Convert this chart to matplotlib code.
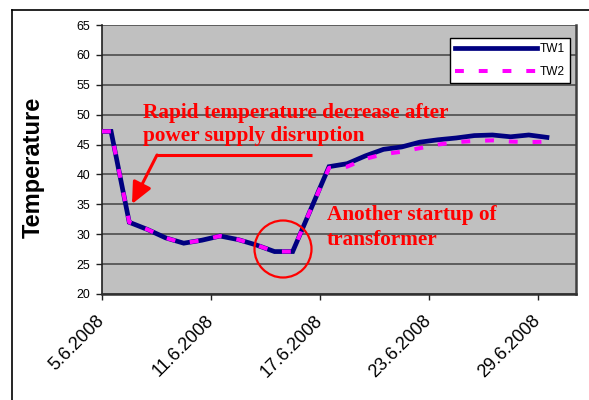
import matplotlib
matplotlib.use("Agg")
import matplotlib.pyplot as plt
from matplotlib.patches import Ellipse
from matplotlib.lines import Line2D

# ---- data ----
day_offset = [0, 0.5, 1.5, 2.5, 3.5, 4.5, 5.5, 6.5, 7.5, 8.5, 9.5, 10.5, 11.5,
              12.5, 13.5, 14.5, 15.5, 16.5, 17.5, 18.5, 19.5, 20.5, 21.5, 22.5,
              23.5, 24.5]
tw1 = [47.2, 47.2, 32.0, 30.8, 29.4, 28.5, 29.0, 29.7, 29.1, 28.2, 27.1, 27.1,
       34.2, 41.3, 41.8, 43.1, 44.2, 44.6, 45.4, 45.8, 46.1, 46.5, 46.6, 46.3,
       46.6, 46.2]
tw2 = [47.2, 47.2, 32.0, 30.8, 29.4, 28.5, 29.0, 29.7, 29.1, 28.2, 27.1, 27.1,
       34.2, 41.1, 41.3, 42.6, 43.4, 43.8, 44.4, 45.0, 45.4, 45.6, 45.7, 45.5,
       45.4, 45.5]
tick_days = [0, 6, 12, 18, 24]
tick_labels = ["5.6.2008", "11.6.2008", "17.6.2008", "23.6.2008", "29.6.2008"]
series_names = ["TW1", "TW2"]

W, H = 589, 400
fig = plt.figure(figsize=(W / 100, H / 100), dpi=100)
fig.patch.set_facecolor("white")

L, R, T, B = 102, 576, 25, 294
ax = fig.add_axes([L / W, 1 - B / H, (R - L) / W, (B - T) / H])
ax.set_facecolor("#C0C0C0")

ax.set_xlim(0, 26.1)
ax.set_ylim(20, 65)
ax.set_yticks(range(20, 66, 5))
ax.yaxis.grid(True, color="#555555", linewidth=1.3)
ax.set_axisbelow(True)

ax.plot(day_offset, tw1, color="#000080", linewidth=3.4, label=series_names[0],
        solid_joinstyle="miter", zorder=3)
ax.plot(day_offset, tw2, color="#FF00FF", linewidth=2.9, linestyle=(0, (2.2, 3.7)),
        label=series_names[1], zorder=4)

ax.spines["top"].set_visible(False)
ax.spines["left"].set_color("#202020")
ax.spines["left"].set_linewidth(1.2)
ax.spines["right"].set_color("#404040")
ax.spines["right"].set_linewidth(1.8)
ax.spines["bottom"].set_color("#303030")
ax.spines["bottom"].set_linewidth(1.8)

ax.set_xticks(tick_days)
ax.set_xticklabels(tick_labels, rotation=45, ha="right", va="center",
                   rotation_mode="anchor", fontsize=13, family="Liberation Sans")
ax.tick_params(axis="x", direction="out", length=4.5, width=1.0, color="#202020", pad=13)
ax.tick_params(axis="y", direction="out", length=4.5, width=1.0, color="#202020",
               pad=4, labelsize=8.9)
for lab in ax.get_yticklabels():
    lab.set_family("Liberation Sans")

fig.text(33 / W, 1 - 167 / H, "Temperature", rotation=90, ha="center", va="center",
         fontsize=17, fontweight="bold", family="Liberation Sans")

leg = ax.legend(loc="upper right", bbox_to_anchor=((570 - L) / (R - L), (B - 38) / (B - T)),
                borderaxespad=0, frameon=True, fancybox=False, framealpha=1,
                edgecolor="black", handlelength=6.9, handletextpad=0.25,
                labelspacing=0.95, borderpad=0.4,
                prop={"family": "Liberation Sans", "size": 8.6})
leg.get_frame().set_linewidth(1.0)

def axf(px, py):
    return ((px - L) / (R - L), (B - py) / (B - T))

red = "#FF0000"
tfont = dict(family="Liberation Serif", fontweight="bold", fontsize=15.3, color=red)
for txt, px, py in [("Rapid temperature decrease after", 143, 118),
                    ("power supply disruption", 143, 141),
                    ("Another startup of", 327, 220),
                    ("transformer", 327, 245)]:
    x0, y0 = axf(px, py)
    ax.text(x0, y0, txt, transform=ax.transAxes, va="baseline", ha="left",
            zorder=5, **tfont)

# arrow: horizontal then diagonal
p1 = axf(312, 155)
p2 = axf(157, 155)
p3 = axf(132, 204)
ax.plot([p1[0], p2[0]], [p1[1], p2[1]], transform=ax.transAxes, color=red,
        linewidth=2.2, zorder=5, solid_capstyle="butt")
ax.annotate("", xy=p3, xytext=p2, xycoords="axes fraction", textcoords="axes fraction",
            arrowprops=dict(arrowstyle="-|>,head_length=1.3,head_width=0.6",
                            color=red, linewidth=2.2, shrinkA=0, shrinkB=0),
            zorder=5)

c = axf(283, 249)
circ = Ellipse(c, 57 / (R - L), 57 / (B - T), transform=ax.transAxes,
               fill=False, edgecolor=red, linewidth=1.6, zorder=5)
ax.add_patch(circ)

# figure border lines (top and left)
fig.add_artist(Line2D([12 / W, 12 / W], [0, 1 - 10 / H], color="black", linewidth=1.2))
fig.add_artist(Line2D([12 / W, 1], [1 - 10 / H, 1 - 10 / H], color="black", linewidth=1.2))

fig.savefig("out.png", dpi=100)
